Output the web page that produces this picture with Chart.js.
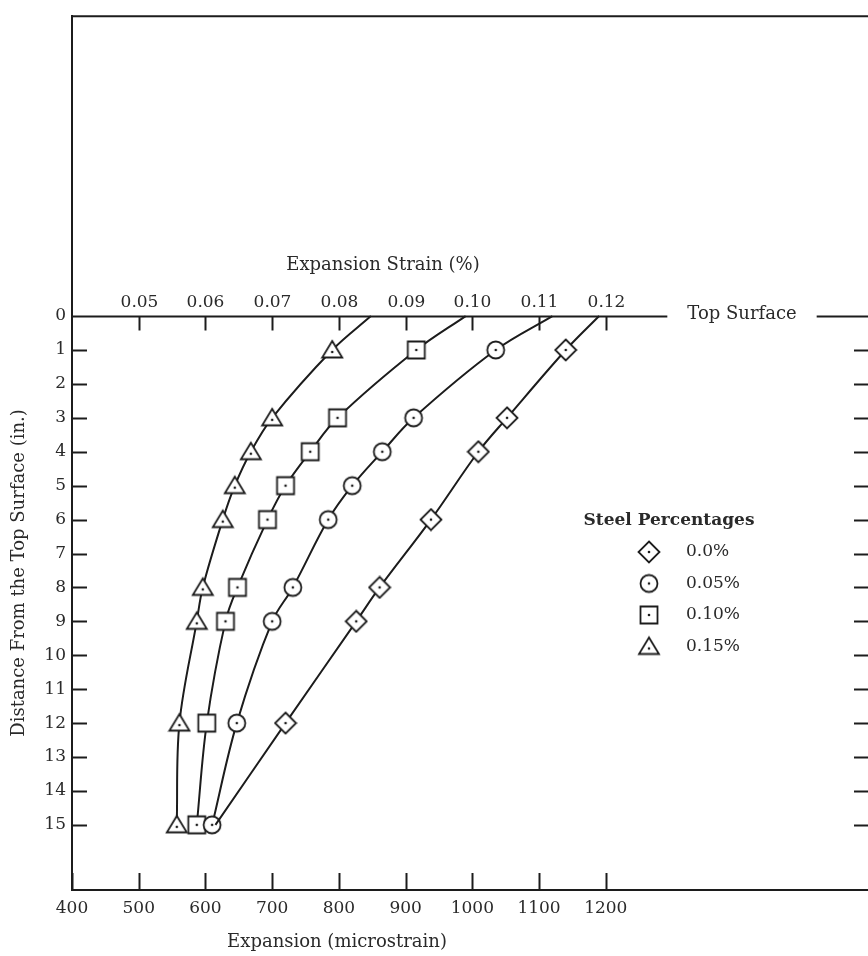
<!DOCTYPE html>
<html>
<head>
<meta charset="utf-8">
<script src="https://cdn.jsdelivr.net/npm/chart.js@4"></script>
<style>
  html, body { margin: 0; padding: 0; background: #fff; overflow: hidden; }
  #wrap { width: 868px; height: 956px; overflow: hidden; position: relative; }
</style>
</head>
<body>
<div id="wrap"><canvas id="my-chart" width="880" height="956"></canvas></div>
<script>
'use strict';

// *** DATA ***

// depth below the top surface (in.)
let depthSteel = [0, 1, 3, 4, 5, 6, 8, 9, 12, 15];
let depthPlain = [0, 1, 3, 4, 6, 8, 9, 12, 15];

// expansion (microstrain) for each steel percentage
let exp00 = [1190, 1140, 1052, 1009, 938, 861, 826, 720, 615];
let exp05 = [1120, 1035, 912, 865, 820, 784, 731, 700, 647, 610];
let exp10 = [990, 916, 798, 757, 720, 693, 648, 630, 602, 587];
let exp15 = [848, 790, 700, 668, 644, 626, 596, 587, 561, 557];

let seriesLabels = ['0.0%', '0.05%', '0.10%', '0.15%'];

let xTicks = [400, 500, 600, 700, 800, 900, 1000, 1100, 1200];
let yTicks = [0, 1, 2, 3, 4, 5, 6, 7, 8, 9, 10, 11, 12, 13, 14, 15];
let rightTicks = [1, 2, 3, 4, 5, 6, 7, 8, 9, 10, 11, 12, 13, 14, 15];
let topTicks = [0.05, 0.06, 0.07, 0.08, 0.09, 0.10, 0.11, 0.12];

// *** STYLE ***

let ink = '#1c1c1c';
let textInk = '#2a2a2a';
let serif = '"DejaVu Serif", "Liberation Serif", serif';

// *** MARKERS ***

function makeMarker(kind, withDot) {
  let c = document.createElement('canvas');
  c.width = 24;
  c.height = 24;
  let g = c.getContext('2d');
  g.strokeStyle = ink;
  g.fillStyle = '#fff';
  g.lineWidth = 1.8;
  g.beginPath();
  if (kind === 'diamond') {
    g.moveTo(12, 1.5); g.lineTo(22.5, 12); g.lineTo(12, 22.5); g.lineTo(1.5, 12); g.closePath();
  } else if (kind === 'circle') {
    g.arc(12, 12, 8.5, 0, Math.PI * 2);
  } else if (kind === 'square') {
    g.rect(3.5, 3.5, 17, 17);
  } else {
    g.moveTo(12, 3); g.lineTo(22, 19.5); g.lineTo(2, 19.5); g.closePath();
  }
  g.fill();
  g.stroke();
  if (withDot !== false) {
    g.fillStyle = ink;
    g.beginPath();
    g.arc(12, kind === 'triangle' ? 14 : 12, 1.3, 0, Math.PI * 2);
    g.fill();
  }
  return c;
}

let markers = [makeMarker('diamond'), makeMarker('circle'), makeMarker('square'), makeMarker('triangle')];
let openSquare = makeMarker('square', false);

function toPoints(xs, ys) {
  let pts = [];
  for (let i = 0; i < xs.length; i++) {
    pts.push({ x: xs[i], y: ys[i] });
  }
  return pts;
}

function makeSeries(idx, xs, ys, hideAt) {
  return {
    label: seriesLabels[idx],
    data: toPoints(xs, ys),
    showLine: true,
    borderColor: ink,
    borderWidth: 2,
    tension: 0.35,
    pointStyle: function(ctx) {
      // the 12 in. square in the original is printed without its dot
      if (idx === 2 && ctx.raw && ctx.raw.y === 12) return openSquare;
      return markers[idx];
    },
    pointRadius: function(ctx) {
      let p = ctx.raw;
      return (p && hideAt.includes(p.y)) ? 0 : 10;
    }
  };
}

// *** CUSTOM DRAWING (frame, inward ticks, top axis, titles, legend) ***

let decorPlugin = {
  id: 'decor',
  afterDraw(chart) {
    let ctx = chart.ctx;
    let xs = chart.scales.x;
    let ys = chart.scales.y;
    let a = chart.chartArea;
    ctx.save();
    ctx.strokeStyle = ink;
    ctx.lineWidth = 2;

    // top frame line
    ctx.beginPath();
    ctx.moveTo(a.left, a.top);
    ctx.lineTo(a.right, a.top);
    ctx.stroke();

    // left inward ticks
    yTicks.forEach(function(v) {
      if (v === 0) return;
      let py = Math.round(ys.getPixelForValue(v)) + 0.5;
      ctx.beginPath();
      ctx.moveTo(a.left, py);
      ctx.lineTo(a.left + 15, py);
      ctx.stroke();
    });
    // right inward ticks
    rightTicks.forEach(function(v) {
      let py = Math.round(ys.getPixelForValue(v)) + 0.5;
      ctx.beginPath();
      ctx.moveTo(a.right - 14, py);
      ctx.lineTo(a.right, py);
      ctx.stroke();
    });
    // bottom upward ticks
    xTicks.forEach(function(v) {
      let px = Math.round(xs.getPixelForValue(v)) + 0.5;
      ctx.beginPath();
      ctx.moveTo(px, a.bottom);
      ctx.lineTo(px, a.bottom - 17);
      ctx.stroke();
    });

    // top surface line with label
    let y0 = Math.round(ys.getPixelForValue(0)) + 0.5;
    ctx.font = '18px ' + serif;
    let label = 'Top Surface';
    let tw = ctx.measureText(label).width;
    let tx = 742;
    ctx.beginPath();
    ctx.moveTo(a.left, y0);
    ctx.lineTo(tx - tw / 2 - 20, y0);
    ctx.moveTo(tx + tw / 2 + 20, y0);
    ctx.lineTo(a.right, y0);
    ctx.stroke();
    ctx.fillStyle = textInk;
    ctx.textAlign = 'center';
    ctx.textBaseline = 'middle';
    ctx.fillText(label, tx, y0 - 2);

    // top axis: expansion strain (%)
    ctx.font = '17px ' + serif;
    topTicks.forEach(function(p) {
      let px = Math.round(xs.getPixelForValue(p * 10000)) + 0.5;
      ctx.beginPath();
      ctx.moveTo(px, y0);
      ctx.lineTo(px, y0 + 14);
      ctx.stroke();
      ctx.fillText(p.toFixed(2), px, y0 - 14);
    });
    ctx.font = '18px ' + serif;
    ctx.fillText('Expansion Strain (%)', 383, 265);

    // bottom axis title
    ctx.fillText('Expansion (microstrain)', 337, 942);

    // y axis title
    ctx.save();
    ctx.translate(19, 573);
    ctx.rotate(-Math.PI / 2);
    ctx.fillText('Distance From the Top Surface (in.)', 0, 0);
    ctx.restore();

    // legend
    ctx.font = '600 17px ' + serif;
    ctx.fillText('Steel Percentages', 669, 521);
    ctx.font = '17px ' + serif;
    ctx.textAlign = 'left';
    chart.data.datasets.forEach(function(ds, i) {
      let ly = 552 + i * 31.5;
      let m = markers[i];
      ctx.drawImage(m, 649 - m.width / 2, ly - m.height / 2);
      ctx.fillText(ds.label, 686, ly);
    });

    ctx.restore();
  }
};

// *** CHART ***

let canvasElem = document.getElementById('my-chart');

let chartConfig = {
  type: 'scatter',
  data: {
    datasets: [
      makeSeries(0, exp00, depthPlain, [0, 15]),
      makeSeries(1, exp05, depthSteel, [0]),
      makeSeries(2, exp10, depthSteel, [0]),
      makeSeries(3, exp15, depthSteel, [0])
    ]
  },
  options: {
    responsive: false,
    animation: false,
    devicePixelRatio: 1,
    layout: { padding: { top: 13, right: 10, left: 0, bottom: 0 } },
    plugins: {
      legend: { display: false },
      tooltip: { enabled: false }
    },
    scales: {
      x: {
        type: 'linear',
        min: 400,
        max: 1593,
        afterBuildTicks: function(scale) {
          scale.ticks = xTicks.map(function(v) { return { value: v }; });
        },
        afterFit: function(scale) { scale.height = 66; },
        grid: { drawOnChartArea: false, drawTicks: false },
        border: { display: true, color: ink, width: 2 },
        ticks: {
          padding: 8,
          color: textInk,
          font: { family: serif, size: 17 },
          maxRotation: 0,
          autoSkip: false,
          callback: function(v) { return String(v); }
        }
      },
      y: {
        type: 'linear',
        reverse: true,
        min: -8.84,
        max: 16.92,
        afterBuildTicks: function(scale) {
          scale.ticks = yTicks.map(function(v) { return { value: v }; });
        },
        afterFit: function(scale) { scale.width = 72; },
        grid: { drawOnChartArea: false, drawTicks: false },
        border: { display: true, color: ink, width: 2 },
        ticks: {
          padding: 6,
          color: textInk,
          font: { family: serif, size: 17 },
          autoSkip: false,
          callback: function(v) { return String(v); }
        }
      }
    }
  },
  plugins: [decorPlugin]
};

new Chart(canvasElem, chartConfig);
</script>
</body>
</html>
